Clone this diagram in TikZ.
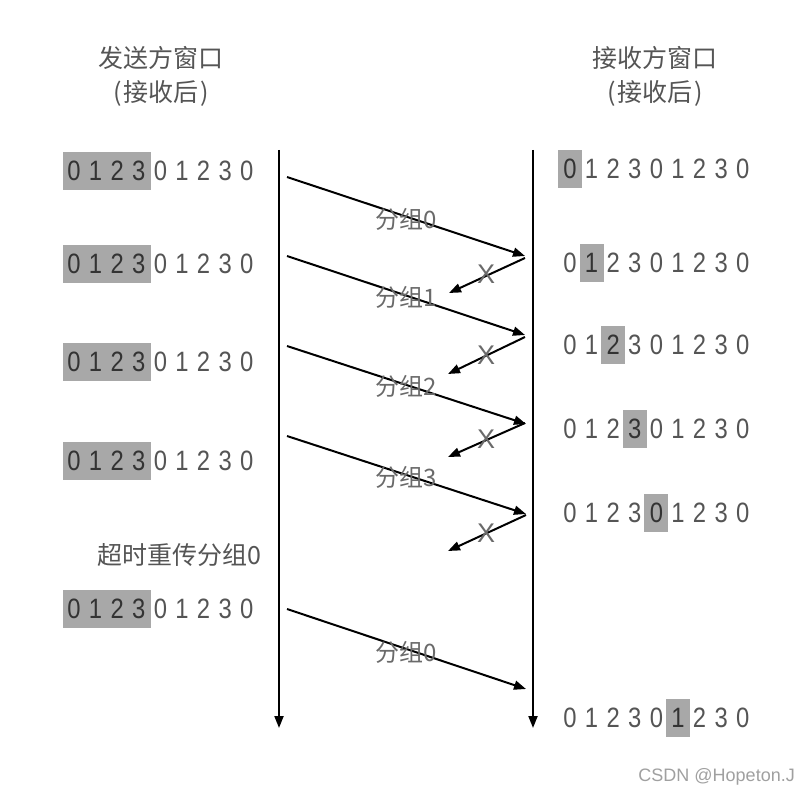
\documentclass[tikz,border=0pt]{standalone}
\usepackage{fontspec}
\usetikzlibrary{arrows.meta}
\newfontfamily\digitfont[FakeStretch=0.85]{Liberation Sans}
\newfontfamily\cjkfont{Noto Sans CJK SC}
\newfontfamily\latinfont{Liberation Sans}
\definecolor{txt}{HTML}{555555}
\definecolor{hlfill}{HTML}{A8A8A8}
\definecolor{hltxt}{HTML}{333333}
\definecolor{lbl}{HTML}{6A6A6A}
\definecolor{wm}{HTML}{A0A0A0}
\newcommand\digitrow[5]{%
  \foreach \dg [count=\k from 0] in {0,1,2,3,0,1,2,3,0}{%
    \ifnum\k<#4 \def\dc{txt}\else\ifnum\k>#5 \def\dc{txt}\else\def\dc{hltxt}\fi\fi
    \node[digit, text=\dc] (#1d\k) at ({#2+\k*21.6},#3) {\dg};
  }}
\begin{document}
\begin{tikzpicture}[x=1pt,y=-1pt,
  digit/.style={inner sep=0pt, font=\digitfont\fontsize{28}{28}\selectfont},
  hl/.style={fill=hlfill, draw=none, inner sep=0pt, minimum height=38pt},
  head/.style={inner sep=0pt, text=txt, font=\cjkfont\fontsize{25}{25}\selectfont},
  lbl/.style={inner sep=0pt, text=lbl, font=\cjkfont\fontsize{24}{24}\selectfont},
  xmark/.style={inner sep=0pt, text=lbl, font=\latinfont\fontsize{27}{27}\selectfont},
  timeline/.style={line width=2pt, -{Triangle[length=12pt,width=9pt]}},
  msg/.style={line width=2pt, -{Triangle[length=12pt,width=9pt]}}]
\useasboundingbox (0,0) rectangle (810,794);
\fill[white] (0,0) rectangle (810,794);

% headers
\node[head] (sh1) at (161,58) {发送方窗口};
\node[head] (sh2) at (161,93) {(\kern2pt 接收后\kern2pt)};
\node[head] (rh1) at (655,58) {接收方窗口};
\node[head] (rh2) at (655,93) {(\kern2pt 接收后\kern2pt)};

% time lines
\coordinate (Ltop) at (279,150);
\coordinate (Lbot) at (279,728);
\coordinate (Rtop) at (533,150);
\coordinate (Rbot) at (533,728);
\draw[timeline] (Ltop) -- (Lbot);
\draw[timeline] (Rtop) -- (Rbot);

% sender windows
\node[hl, minimum width=88pt] (s1hl) at (107,171) {};
\node[hl, minimum width=88pt] (s2hl) at (107,264) {};
\node[hl, minimum width=88pt] (s3hl) at (107,362) {};
\node[hl, minimum width=88pt] (s4hl) at (107,461) {};
\node[hl, minimum width=88pt] (s5hl) at (107,609) {};
\digitrow{s1}{74}{171}{0}{3}
\digitrow{s2}{74}{264}{0}{3}
\digitrow{s3}{74}{362}{0}{3}
\digitrow{s4}{74}{461}{0}{3}
\digitrow{s5}{74}{609}{0}{3}

% receiver windows
\node[hl, minimum width=24pt] (r1hl) at (570,169) {};
\node[hl, minimum width=24pt] (r2hl) at (591.6,262.5) {};
\node[hl, minimum width=24pt] (r3hl) at (613.2,345) {};
\node[hl, minimum width=24pt] (r4hl) at (634.8,429) {};
\node[hl, minimum width=24pt] (r5hl) at (656.4,512.5) {};
\node[hl, minimum width=24pt] (r6hl) at (678,718) {};
\digitrow{r1}{570}{169}{0}{0}
\digitrow{r2}{570}{262.5}{1}{1}
\digitrow{r3}{570}{345}{2}{2}
\digitrow{r4}{570}{429}{3}{3}
\digitrow{r5}{570}{512.5}{4}{4}
\digitrow{r6}{570}{718}{5}{5}

% packets
\coordinate (p0s) at (287,177);  \coordinate (p0e) at (525,256);
\coordinate (p1s) at (287,256);  \coordinate (p1e) at (525,335);
\coordinate (p2s) at (287,346);  \coordinate (p2e) at (526,424);
\coordinate (p3s) at (287,436);  \coordinate (p3e) at (526,514);
\coordinate (p4s) at (287,609);  \coordinate (p4e) at (526,689);
\draw[msg] (p0s) -- (p0e);
\draw[msg] (p1s) -- (p1e);
\draw[msg] (p2s) -- (p2e);
\draw[msg] (p3s) -- (p3e);
\draw[msg] (p4s) -- (p4e);

% lost acks
\coordinate (a1s) at (525,258);  \coordinate (a1e) at (449,293);
\coordinate (a2s) at (525,337);  \coordinate (a2e) at (448,374);
\coordinate (a3s) at (525,423);  \coordinate (a3e) at (448,457);
\coordinate (a4s) at (526,515);  \coordinate (a4e) at (448,551);
\draw[msg] (a1s) -- (a1e);
\draw[msg] (a2s) -- (a2e);
\draw[msg] (a3s) -- (a3e);
\draw[msg] (a4s) -- (a4e);
\node[xmark] (x1) at (486,274) {X};
\node[xmark] (x2) at (486,355) {X};
\node[xmark] (x3) at (486,439) {X};
\node[xmark] (x4) at (486,533) {X};

% packet labels
\node[lbl] (l0) at (406,219) {分组0};
\node[lbl] (l1) at (406,297) {分组1};
\node[lbl] (l2) at (406,386) {分组2};
\node[lbl] (l3) at (406,477) {分组3};
\node[lbl] (l4) at (406,652) {分组0};

% retransmission note
\node[head] (rt) at (179,555) {超时重传分组0};

% watermark
\node[inner sep=0pt, anchor=east, text=wm, font=\latinfont\fontsize{18}{18}\selectfont] (wmk) at (795,777) {CSDN @Hopeton.J};
\end{tikzpicture}
\end{document}
